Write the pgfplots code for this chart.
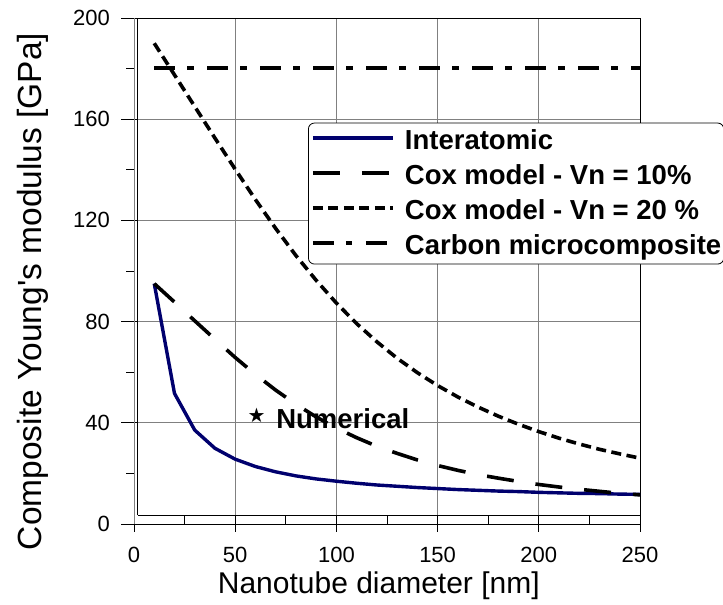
\documentclass[border=0pt]{standalone}
\usepackage{fontspec}
\setmainfont{Liberation Sans}[Ligatures=TeXOff]
\newfontfamily\symfont{DejaVu Sans}
\usepackage{pgfplots}
\pgfplotsset{compat=1.18}

\definecolor{navyline}{RGB}{0,0,110}
\definecolor{gridgray}{RGB}{128,128,128}

\begin{document}
\begin{tikzpicture}
\begin{axis}[
  scale only axis,
  width=506pt, height=506pt,
  xmin=0, xmax=250, ymin=0, ymax=200,
  xtick={0,50,...,250}, ytick={0,40,...,200},
  minor x tick num=1, minor y tick num=1,
  tick pos=left,
  tick align=inside,
  major tick length=17pt, minor tick length=9pt,
  tick style={black, line width=0.8pt},
  major x tick style={yshift=-8pt},
  major y tick style={xshift=-13pt},
  minor y tick style={xshift=-8pt},
  grid=major,
  major grid style={gridgray, line width=0.9pt},
  axis line style={black, line width=0.9pt},
  clip=false,
  /pgf/number format/assume math mode=true,
  tick label style={font=\fontsize{22}{22}\selectfont},
  xticklabel style={anchor=north, inner sep=0pt, yshift=-22.7pt},
  yticklabel style={anchor=east, inner sep=0pt, xshift=-24pt},
  xlabel={Nanotube diameter [nm]},
  ylabel={Composite Young's modulus [GPa]},
  xlabel style={at={(axis description cs:0.4838,-0.1383)}, anchor=base,
                font=\fontsize{30}{30}\selectfont},
  ylabel style={at={(axis description cs:-0.2000,0.4595)}, anchor=center,
                font=\fontsize{33.5}{33.5}\selectfont},
  legend cell align=left,
  legend style={
    at={(0.3439,0.7931)}, anchor=north west,
    draw=black, line width=0.8pt, rounded corners=6pt, fill=white,
    font=\bfseries\fontsize{27.5}{27.5}\selectfont,
    inner sep=2.5pt,
    nodes={inner sep=0pt, text height=24pt, text depth=7pt},
    row sep=4pt,
    /tikz/every odd column/.append style={column sep=10pt},
  },
  legend image code/.code={\draw[#1] (0pt,3pt) -- (80pt,3pt);},
]

% interatomic model
\addplot[navyline, line width=3.4pt, line join=round] coordinates {
  (10,95.0) (20,51.6) (30,37.1) (40,29.9) (50,25.6) (60,22.7) (70,20.6)
  (80,19.0) (90,17.8) (100,16.9) (110,16.1) (120,15.4) (130,14.9)
  (140,14.4) (150,14.0) (160,13.6) (170,13.3) (180,13.0) (190,12.8)
  (200,12.5) (210,12.3) (220,12.1) (230,12.0) (240,11.8) (250,11.7)
};
\addlegendentry{Interatomic}

% Cox, Vn = 10%
\addplot[black, line width=3.6pt, dash pattern=on 27pt off 22pt] coordinates {
  (10,95.0) (20,87.7) (30,80.3) (40,73.0) (50,65.8) (60,59.1) (70,52.9)
  (80,47.3) (90,42.3) (100,37.9) (110,34.1) (120,30.7) (130,27.9)
  (140,25.3) (150,23.1) (160,21.2) (170,19.5) (180,18.1) (190,16.8)
  (200,15.6) (210,14.6) (220,13.7) (230,12.9) (240,12.1) (250,11.5)
};
\addlegendentry{Cox model - Vn = 10\%}

% Cox, Vn = 20%
\addplot[black, line width=3.6pt, dash pattern=on 10pt off 5.5pt] coordinates {
  (10,190.0) (20,177.5) (30,165.0) (40,152.5) (50,140.2) (60,128.2)
  (70,116.8) (80,106.1) (90,96.3) (100,87.3) (110,79.2) (120,72.0)
  (130,65.5) (140,59.8) (150,54.7) (160,50.2) (170,46.2) (180,42.6)
  (190,39.4) (200,36.5) (210,33.9) (220,31.6) (230,29.5) (240,27.7)
  (250,26.0)
};
\addlegendentry{Cox model - Vn = 20 \%}

% carbon microcomposite
\addplot[black, line width=4pt,
  dash pattern=on 21pt off 12pt on 6.5pt off 13.5pt] coordinates {
  (10,180.2) (250,180.2)
};
\addlegendentry{Carbon microcomposite}

% numerical result
\addplot[draw=none, mark=none, forget plot,
  nodes near coords={\symfont\fontsize{20}{20}\selectfont ★},
  every node near coord/.style={anchor=center, inner sep=0pt}] coordinates {
  (60.6,42.9)
};
\node[anchor=base west, inner sep=0pt, font=\bfseries\fontsize{27.5}{27.5}\selectfont]
  at (axis cs:70.2,37.9) {Numerical};

% Excel-style double frame
\draw[gridgray, line width=0.9pt] (axis cs:0,0) -- (axis cs:0,200);
\draw[black, line width=0.9pt] (axis cs:1.8,3.5) -- (axis cs:1.8,200);
\draw[black, line width=0.9pt] (axis cs:1.8,3.5) -- (axis cs:250,3.5);

\coordinate (bbsw) at (axis cs:-66.21,-32.02);
\coordinate (bbne) at (axis cs:291.0,207.1);
\end{axis}
\pgfresetboundingbox
\path[use as bounding box] (bbsw) rectangle (bbne);
\end{tikzpicture}
\end{document}
